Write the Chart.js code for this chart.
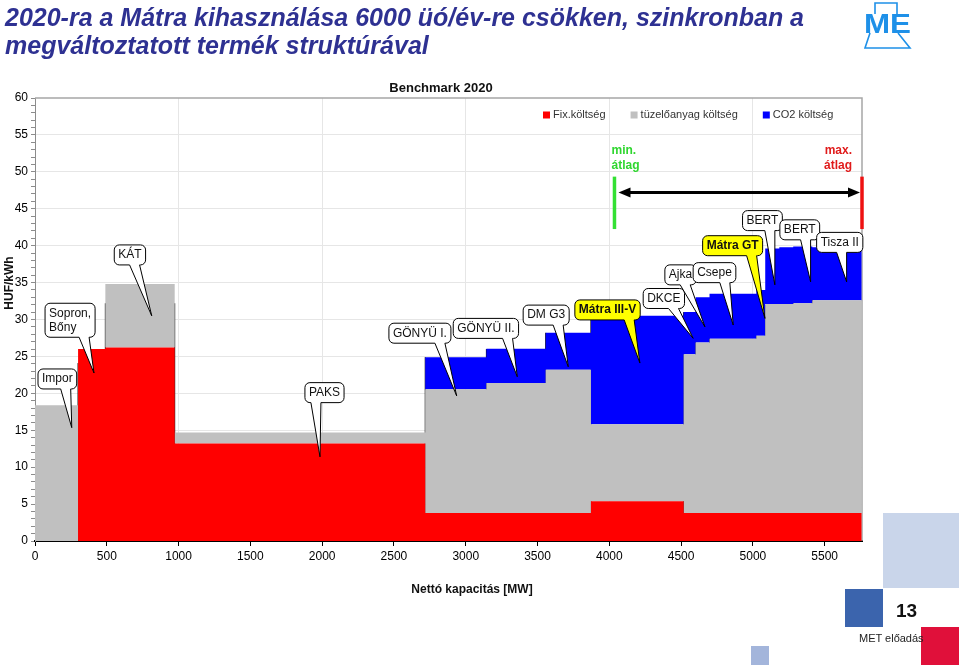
<!DOCTYPE html>
<html lang="hu">
<head>
<meta charset="UTF-8">
<script src="https://cdn.jsdelivr.net/npm/chart.js@4"></script>
<style>
  html, body {
    margin: 0;
    padding: 0;
    background: #ffffff;
    width: 959px;
    height: 665px;
    overflow: hidden;
    font-family: Arial, "Liberation Sans", sans-serif;
  }
  #title {
    position: absolute;
    left: 5px;
    top: 3px;
    color: #2e3192;
    font-style: italic;
    font-weight: bold;
    font-size: 25px;
    line-height: 28px;
    white-space: nowrap;
  }
  #wrap { position: absolute; left: 0; top: 0; width: 959px; height: 665px; }
  .deco { position: absolute; }
  #pageNo { position: absolute; left: 896px; top: 600px; font-weight: bold; font-size: 19px; color: #111; }
  #footer { position: absolute; left: 859px; top: 632px; font-size: 11px; color: #222; }
</style>
</head>
<body>
<div id="wrap"><canvas id="meritChart" width="959" height="665"></canvas></div>
<div id="title">2020-ra a Mátra kihasználása 6000 üó/év-re csökken, szinkronban a<br>megváltoztatott termék struktúrával</div>

<svg class="deco" style="left:858px;top:0px" width="60" height="52" viewBox="858 0 60 52">
  <path d="M875 14 V3 H897 V14 M870 33 L865 48 H910 L898 33" fill="none" stroke="#1e90e8" stroke-width="1.6"/>
  <text x="864" y="33" textLength="47" lengthAdjust="spacingAndGlyphs" font-family="Arial, 'Liberation Sans', sans-serif" font-weight="bold" font-size="27" fill="#1e90e8">ME</text>
</svg>

<div class="deco" style="left:883px;top:513px;width:76px;height:75px;background:#c9d5ea"></div>
<div class="deco" style="left:845px;top:589px;width:38px;height:38px;background:#3b64ad"></div>
<div class="deco" style="left:921px;top:627px;width:38px;height:38px;background:#e0103a"></div>
<div class="deco" style="left:751px;top:646px;width:18px;height:19px;background:#a3b5db"></div>
<div id="pageNo">13</div>
<div id="footer">MET előadás</div>

<script>
// Benchmark 2020 - merit order of plants
const plantNames = ['Impor', 'Sopron,\nBőny', 'KÁT', 'PAKS', 'GÖNYÜ I.', 'GÖNYÜ II.', 'DM G3', 'Mátra III-V',
  'DKCE', 'Ajka', 'Csepe', 'Mátra GT', 'BERT', '', 'BERT', 'Tisza II'];
const capacityMW = [300, 190, 483, 1745, 426, 413, 315, 646, 83, 97, 326, 62, 98, 97, 133, 344];
const fixCost  = [0, 26.0, 26.2, 13.2, 3.8, 3.8, 3.8, 5.4, 3.8, 3.8, 3.8, 3.8, 3.8, 3.8, 3.8, 3.8];
const fuelCost = [18.4, 0, 8.6, 1.5, 16.75, 17.6, 19.4, 10.4, 21.5, 23.1, 23.6, 24.0, 28.3, 28.3, 28.4, 28.8];
const co2Cost  = [0, 0, 0, 0, 4.35, 4.65, 5.0, 14.7, 5.7, 6.1, 6.1, 6.2, 7.5, 7.7, 7.7, 7.2];

// axis ticks
const xTicks = [0, 500, 1000, 1500, 2000, 2500, 3000, 3500, 4000, 4500, 5000, 5500];
const xMax = 5760;
const yMax = 60;

// thin black separators between plants (height of each line)
const edgeTop = [24.1, 32.2, 32.2, 24.9, 26.0, 28.2, 30.0, 31.0, 29.5, 31.0, 27.8, 32.0, 36.5, 36.7, 35.6];

// red average marks on some plants
const avgFrom  = [2765, 3144, 3567, 3879];
const avgTo    = [3144, 3549, 3860, 4503];
const avgValue = [24.2, 25.7, 27.8, 29.3];

// min / max average range
const minAvgMW = 4036;
const maxAvgMW = 5760;
const rangeLow = 42.25;
const rangeHigh = 49.35;
const arrowLevel = 47.2;

const legendNames = ['Fix.költség', 'tüzelőanyag költség', 'CO2 költség'];
const colors = ['#ff0000', '#c0c0c0', '#0000ff'];

// callout boxes: box corner and tip in data units
const callouts = [
  { i: 0,  boxX: 21,   boxY: 23.3,  tipX: 256,  tipY: 15.35 },
  { i: 1,  boxX: 70,   boxY: 32.2,  tipX: 411,  tipY: 22.75 },
  { i: 2,  boxX: 552,  boxY: 40.1,  tipX: 813,  tipY: 30.5 },
  { i: 3,  boxX: 1880, boxY: 21.45, tipX: 1985, tipY: 11.4 },
  { i: 4,  boxX: 2465, boxY: 29.5,  tipX: 2937, tipY: 19.65 },
  { i: 5,  boxX: 2913, boxY: 30.15, tipX: 3359, tipY: 22.25 },
  { i: 6,  boxX: 3400, boxY: 31.95, tipX: 3714, tipY: 23.6 },
  { i: 7,  boxX: 3760, boxY: 32.65, tipX: 4213, tipY: 24.1, hi: true },
  { i: 8,  boxX: 4236, boxY: 34.2,  tipX: 4584, tipY: 27.45 },
  { i: 9,  boxX: 4387, boxY: 37.4,  tipX: 4666, tipY: 29.0 },
  { i: 10, boxX: 4584, boxY: 37.7,  tipX: 4863, tipY: 29.25 },
  { i: 11, boxX: 4650, boxY: 41.35, tipX: 5084, tipY: 30.15, hi: true },
  { i: 12, boxX: 4928, boxY: 44.75, tipX: 5153, tipY: 34.7 },
  { i: 14, boxX: 5188, boxY: 43.5,  tipX: 5402, tipY: 35.1 },
  { i: 15, boxX: 5444, boxY: 41.8,  tipX: 5653, tipY: 35.1 }
];

const FONT = 'Arial, "Liberation Sans", sans-serif';
Chart.defaults.font.family = FONT;

// cumulative capacity -> left edge of each plant
const starts = [];
let acc = 0;
capacityMW.forEach(w => { starts.push(acc); acc += w; });
const totalMW = acc;

const fuelTop = fixCost.map((v, i) => v + fuelCost[i]);
const co2Top = fuelTop.map((v, i) => v + co2Cost[i]);

function stepSeries(values) {
  const pts = starts.map((x, i) => ({ x: x, y: values[i] }));
  pts.push({ x: totalMW, y: values[values.length - 1] });
  return pts;
}

const edgeData = [];
edgeTop.forEach((top, k) => {
  const x = starts[k + 1];
  edgeData.push({ x: x, y: 0 }, { x: x, y: top }, { x: x, y: null });
});

const avgData = [];
avgValue.forEach((v, k) => {
  avgData.push({ x: avgFrom[k], y: v }, { x: avgTo[k], y: v }, { x: avgTo[k], y: null });
});

const layer = (label, data, color, fill) => ({
  label: label,
  data: data,
  stepped: true,
  fill: fill,
  backgroundColor: color,
  borderColor: 'rgba(0,0,0,0)',
  borderWidth: 1,
  pointRadius: 0
});

function drawCallout(ctx, c, xs, ys) {
  ctx.font = (c.hi ? 'bold ' : '') + '12px ' + FONT;
  const lines = plantNames[c.i].split('\n');
  const w = Math.max.apply(null, lines.map(l => ctx.measureText(l).width)) + 8;
  const h = lines.length * 14 + 6;
  const left = xs.getPixelForValue(c.boxX);
  const top = ys.getPixelForValue(c.boxY);
  const tx = xs.getPixelForValue(c.tipX);
  const ty = ys.getPixelForValue(c.tipY);
  const right = left + w, bottom = top + h, r = 5;
  const b2 = Math.min(right - r - 1, Math.max(tx, left + r + 11));
  const b1 = b2 - 10;
  ctx.beginPath();
  ctx.moveTo(left + r, top);
  ctx.arcTo(right, top, right, bottom, r);
  ctx.arcTo(right, bottom, left, bottom, r);
  ctx.lineTo(b2, bottom);
  ctx.lineTo(tx, ty);
  ctx.lineTo(b1, bottom);
  ctx.arcTo(left, bottom, left, top, r);
  ctx.arcTo(left, top, right, top, r);
  ctx.closePath();
  ctx.fillStyle = c.hi ? '#ffff00' : '#ffffff';
  ctx.fill();
  ctx.strokeStyle = '#000';
  ctx.lineWidth = 1;
  ctx.stroke();
  ctx.fillStyle = '#111';
  ctx.textAlign = 'left';
  ctx.textBaseline = 'middle';
  lines.forEach((l, k) => ctx.fillText(l, left + 4, top + 10 + k * 14));
}

const overlay = {
  id: 'overlay',
  beforeDatasetsDraw(chart) {
    const { ctx, chartArea: a } = chart;
    ctx.save();
    ctx.strokeStyle = '#a6a6a6';
    ctx.lineWidth = 1.5;
    ctx.beginPath();
    ctx.moveTo(a.left, a.top);
    ctx.lineTo(a.right, a.top);
    ctx.lineTo(a.right, a.bottom);
    ctx.stroke();
    ctx.restore();
  },
  afterDatasetsDraw(chart) {
    const { ctx, chartArea: a, scales } = chart;
    const xs = scales.x, ys = scales.y;
    ctx.save();

    // header and axis titles
    ctx.fillStyle = '#111';
    ctx.textBaseline = 'middle';
    ctx.textAlign = 'center';
    ctx.font = 'bold 13px ' + FONT;
    ctx.fillText('Benchmark 2020', 441, 88);
    ctx.font = 'bold 12px ' + FONT;
    ctx.fillText('Nettó kapacitás [MW]', 472, 590);
    ctx.save();
    ctx.translate(10, 283);
    ctx.rotate(-Math.PI / 2);
    ctx.fillText('HUF/kWh', 0, 0);
    ctx.restore();

    // legend inside the plot
    ctx.font = '11px ' + FONT;
    ctx.textAlign = 'left';
    let lx = 543;
    const ly = a.top + 17;
    legendNames.forEach((name, k) => {
      ctx.fillStyle = colors[k];
      ctx.fillRect(lx, ly - 3.5, 7, 7);
      ctx.fillStyle = '#333';
      ctx.fillText(name, lx + 10, ly);
      lx += 10 + ctx.measureText(name).width + 25;
    });

    // min / max labels
    ctx.font = 'bold 12px ' + FONT;
    const gx = xs.getPixelForValue(minAvgMW);
    const rx = xs.getPixelForValue(maxAvgMW);
    ctx.fillStyle = '#2fd62f';
    ctx.textAlign = 'left';
    ctx.fillText('min.', gx - 3, ys.getPixelForValue(52.8));
    ctx.fillText('átlag', gx - 3, ys.getPixelForValue(50.8));
    ctx.fillStyle = '#e01b1b';
    ctx.textAlign = 'right';
    ctx.fillText('max.', rx - 10, ys.getPixelForValue(52.8));
    ctx.fillText('átlag', rx - 10, ys.getPixelForValue(50.8));

    // double arrow between min and max
    const ay = ys.getPixelForValue(arrowLevel);
    const x1 = gx + 4, x2 = rx - 2;
    ctx.strokeStyle = '#000';
    ctx.fillStyle = '#000';
    ctx.lineWidth = 3;
    ctx.beginPath();
    ctx.moveTo(x1 + 8, ay);
    ctx.lineTo(x2 - 8, ay);
    ctx.stroke();
    [[x1, 1], [x2, -1]].forEach(([px, d]) => {
      ctx.beginPath();
      ctx.moveTo(px, ay);
      ctx.lineTo(px + d * 12, ay - 5);
      ctx.lineTo(px + d * 12, ay + 5);
      ctx.closePath();
      ctx.fill();
    });

    // plant callouts
    callouts.forEach(c => drawCallout(ctx, c, xs, ys));
    ctx.restore();
  }
};

new Chart(document.getElementById('meritChart'), {
  type: 'line',
  data: {
    datasets: [
      layer(legendNames[0], stepSeries(fixCost), colors[0], 'origin'),
      layer(legendNames[1], stepSeries(fuelTop), colors[1], '-1'),
      layer(legendNames[2], stepSeries(co2Top), colors[2], '-1'),
      { label: 'edges', data: edgeData, borderColor: '#000', borderWidth: 1, pointRadius: 0, fill: false },
      { label: 'avg', data: avgData, borderColor: '#ff1a1a', borderWidth: 3, pointRadius: 0, fill: false },
      { label: 'min', data: [{ x: minAvgMW, y: rangeLow }, { x: minAvgMW, y: rangeHigh }],
        borderColor: '#33e033', borderWidth: 3.5, pointRadius: 0, fill: false, clip: false },
      { label: 'max', data: [{ x: maxAvgMW, y: rangeLow }, { x: maxAvgMW, y: rangeHigh }],
        borderColor: '#ee1111', borderWidth: 3.5, pointRadius: 0, fill: false, clip: false }
    ]
  },
  options: {
    responsive: false,
    animation: false,
    events: [],
    layout: { padding: { top: 98, right: 97, bottom: 64, left: 0 } },
    plugins: {
      legend: { display: false },
      title: { display: false },
      tooltip: { enabled: false }
    },
    scales: {
      x: {
        type: 'linear',
        min: 0,
        max: xMax,
        afterFit: s => { s.height = 60; },
        afterBuildTicks: s => { s.ticks = xTicks.map(v => ({ value: v })); },
        ticks: {
          color: '#000',
          font: { size: 12 },
          padding: 3,
          maxRotation: 0,
          autoSkip: false,
          callback: v => String(v)
        },
        grid: {
          color: c => (c.tick && c.tick.value > 0 && c.tick.value % 1000 === 0) ? '#e6e6e6' : 'rgba(0,0,0,0)',
          tickColor: '#000',
          tickLength: 5
        },
        border: { color: '#000', width: 2 }
      },
      y: {
        min: 0,
        max: yMax,
        afterFit: s => { s.width = 35; },
        ticks: {
          stepSize: 1,
          maxTicksLimit: 100,
          autoSkip: false,
          color: '#000',
          font: { size: 12 },
          padding: 3,
          callback: v => (v % 5 === 0 ? String(v) : '')
        },
        grid: {
          color: c => (c.tick && c.tick.value % 5 === 0 && c.tick.value > 0 && c.tick.value < yMax) ? '#e6e6e6' : 'rgba(0,0,0,0)',
          tickColor: '#8c8c8c',
          tickLength: 4
        },
        border: { color: '#8c8c8c', width: 1 }
      }
    }
  },
  plugins: [overlay]
});
</script>
</body>
</html>
